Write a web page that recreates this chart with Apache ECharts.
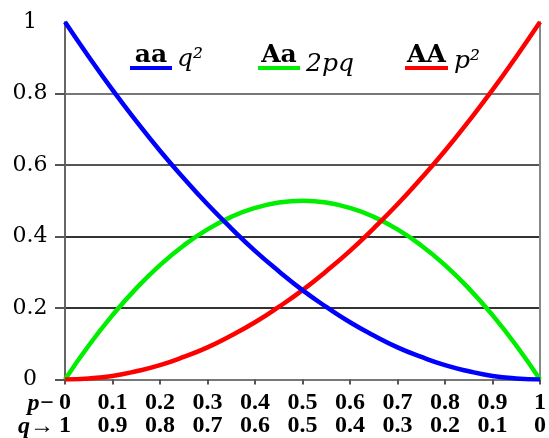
<!DOCTYPE html>
<html>
<head>
<meta charset="utf-8">
<script src="https://cdn.jsdelivr.net/npm/echarts@6/dist/echarts.min.js"></script>
<style>
  html, body { margin: 0; padding: 0; background: #fff; }
  #chart { width: 549px; height: 438px; }
</style>
</head>
<body>
<div id="chart"></div>
<script>
// allele frequency p (q = 1 - p)
const pValues = [0, 0.05, 0.1, 0.15, 0.2, 0.25, 0.3, 0.35, 0.4, 0.45, 0.5,
  0.55, 0.6, 0.65, 0.7, 0.75, 0.8, 0.85, 0.9, 0.95, 1]
// genotype frequencies
const aaValues = [1, 0.903, 0.81, 0.723, 0.64, 0.563, 0.49, 0.423, 0.36, 0.303, 0.25,
  0.203, 0.16, 0.123, 0.09, 0.063, 0.04, 0.023, 0.01, 0.003, 0]
const AaValues = [0, 0.095, 0.18, 0.255, 0.32, 0.375, 0.42, 0.455, 0.48, 0.495, 0.5,
  0.495, 0.48, 0.455, 0.42, 0.375, 0.32, 0.255, 0.18, 0.095, 0]
const AAValues = [0, 0.003, 0.01, 0.023, 0.04, 0.063, 0.09, 0.123, 0.16, 0.203, 0.25,
  0.303, 0.36, 0.423, 0.49, 0.563, 0.64, 0.723, 0.81, 0.903, 1]

// tick labels
const pLabels = ['0', '0.1', '0.2', '0.3', '0.4', '0.5', '0.6', '0.7', '0.8', '0.9', '1']
const qLabels = ['1', '0.9', '0.8', '0.7', '0.6', '0.5', '0.4', '0.3', '0.2', '0.1', '0']
const yLabels = ['0', '0.2', '0.4', '0.6', '0.8', '1']

const colors = ['#0000ff', '#00ee00', '#ff0000']
const pairs = vals => pValues.map((p, i) => [p, vals[i]])

const chart = echarts.init(document.getElementById('chart'))

const legendItem = (x, w, label, expr, exprX, exprY, color) => ([
  {
    type: 'rect',
    shape: { x: x, y: 66, width: w, height: 4 },
    style: { fill: color },
    z: 10
  },
  {
    type: 'text',
    style: {
      text: label,
      x: x + w / 2,
      y: 55,
      align: 'center',
      verticalAlign: 'middle',
      font: '600 25px "DejaVu Serif"',
      fill: '#000'
    },
    z: 10
  },
  {
    type: 'text',
    style: {
      text: expr,
      x: exprX,
      y: exprY,
      align: 'left',
      verticalAlign: 'middle',
      font: 'italic 25px "DejaVu Serif"',
      fill: '#000'
    },
    z: 10
  }
])

// "p−" / "q→" in front of the first tick label row
const rowPrefix = (text, y) => ({
  type: 'text',
  style: {
    text: text,
    x: 54,
    y: y,
    align: 'right',
    verticalAlign: 'middle',
    font: 'italic bold 24px "Liberation Serif"',
    fill: '#000'
  }
})

const option = {
  animation: false,
  grid: {
    left: 65,
    right: 8,
    top: 22,
    bottom: 58
  },
  xAxis: {
    type: 'value',
    min: 0,
    max: 1,
    interval: 0.1,
    axisLine: {
      lineStyle: { color: '#777', width: 2 }
    },
    axisTick: {
      length: 5,
      lineStyle: { color: '#555', width: 2 }
    },
    splitLine: { show: false },
    axisLabel: {
      margin: 12,
      showMinLabel: true,
      showMaxLabel: true,
      fontFamily: 'Liberation Serif',
      fontWeight: 'bold',
      fontSize: 24,
      lineHeight: 23,
      color: '#000',
      formatter: function (value) {
        const i = Math.round(value * 10)
        return pLabels[i] + '\n' + qLabels[i]
      }
    }
  },
  yAxis: [{
    type: 'value',
    min: 0,
    max: 1,
    interval: 0.2,
    axisLine: {
      show: true,
      lineStyle: { color: '#666', width: 2 }
    },
    axisTick: {
      show: true,
      length: 10,
      customValues: [0, 0.2, 0.4, 0.6, 0.8],
      lineStyle: { color: '#555', width: 2 }
    },
    splitLine: {
      show: true,
      lineStyle: {
        color: ['#777', '#333', '#333', '#555', '#777', 'rgba(0,0,0,0)'],
        width: 2
      }
    },
    axisLabel: {
      margin: 35,
      align: 'center',
      color: '#000',
      fontFamily: 'DejaVu Serif',
      fontSize: 22,
      formatter: function (value) {
        return yLabels[Math.round(value * 5)]
      }
    }
  }, {
    type: 'value',
    position: 'right',
    min: 0,
    max: 1,
    interval: 0.2,
    axisLine: {
      show: true,
      lineStyle: { color: '#888', width: 2 }
    },
    axisTick: { show: false },
    axisLabel: { show: false },
    splitLine: { show: false }
  }],
  graphic: [].concat(
    legendItem(130, 42, 'aa', 'q²', 177, 59, colors[0]),
    legendItem(258, 42, 'Aa', '2pq', 306, 64, colors[1]),
    legendItem(405, 43, 'AA', 'p²', 454, 61, colors[2]),
    [rowPrefix('p−', 404), rowPrefix('q→', 427)]
  ),
  series: [
    {
      name: 'aa',
      type: 'line',
      smooth: true,
      showSymbol: false,
      data: pairs(aaValues),
      lineStyle: { color: colors[0], width: 4.5 },
      z: 3
    },
    {
      name: 'Aa',
      type: 'line',
      smooth: true,
      showSymbol: false,
      data: pairs(AaValues),
      lineStyle: { color: colors[1], width: 4.5 },
      z: 2
    },
    {
      name: 'AA',
      type: 'line',
      smooth: true,
      showSymbol: false,
      data: pairs(AAValues),
      lineStyle: { color: colors[2], width: 4.5 },
      z: 2
    }
  ]
}

chart.setOption(option)
</script>
</body>
</html>
